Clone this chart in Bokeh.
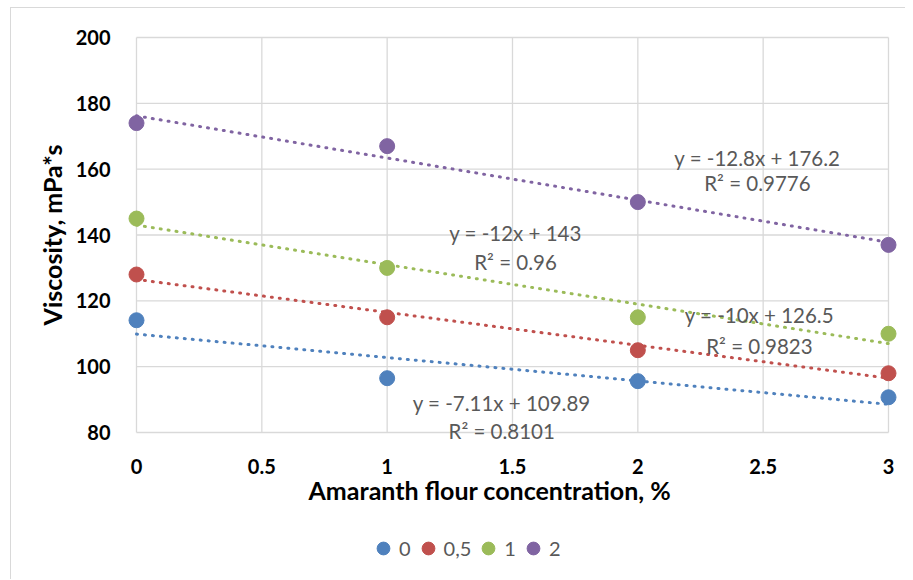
import numpy as np
from bokeh.plotting import figure
from bokeh.layouts import column
from bokeh.models import Range1d, FixedTicker, Legend, LegendItem, Title
from bokeh.core.properties import value
from bokeh.embed import file_html
from bokeh.resources import INLINE

# ---- data ----
conc = [0, 1, 2, 3]
series_names = ["0", "0,5", "1", "2"]
visc_0 = [114.1, 96.5, 95.6, 90.7]
visc_05 = [128, 115, 105, 98]
visc_1 = [145, 130, 115, 110]
visc_2 = [174, 167, 150, 137]
colors = ["#4f81bd", "#c0504d", "#9bbb59", "#8064a2"]
eq_labels = ["y = -7.11x + 109.89", "y = -10x + 126.5", "y = -12x + 143", "y = -12.8x + 176.2"]
r2_labels = ["R\u00b2 = 0.8101", "R\u00b2 = 0.9823", "R\u00b2 = 0.96", "R\u00b2 = 0.9776"]
x_ticks = [0, 0.5, 1, 1.5, 2, 2.5, 3]
y_ticks = [80, 100, 120, 140, 160, 180, 200]
x_title = "Amaranth flour concentration, %"
y_title = "Viscosity, mPa*s"

series = [visc_0, visc_05, visc_1, visc_2]

FONT = "Lato"
OX, OY = 11, 8          # page offset of the chart content (outer border)
PAD = 10
W = 894
H = 507
left_b = 126 - OX
top_b = 27 - OY
frame_w = 772
frame_h = 415
right_b = W - left_b - frame_w
bottom_b = H - top_b - frame_h

xmin, xmax = x_ticks[0], x_ticks[-1]
ymin, ymax = y_ticks[0], y_ticks[-1]
xpad = (xmax - xmin) * PAD / (frame_w - 2 * PAD)
ypad = (ymax - ymin) * PAD / (frame_h - 2 * PAD)

p = figure(width=W, height=H, output_backend="svg", toolbar_location=None,
           x_range=Range1d(xmin - xpad, xmax + xpad),
           y_range=Range1d(ymin - ypad, ymax + ypad),
           min_border_left=left_b, min_border_right=right_b,
           min_border_top=top_b, min_border_bottom=bottom_b)
p.outline_line_color = None
p.xgrid.visible = False
p.ygrid.visible = False

# grid drawn within the plot area only
grid_c = "#d9d9d9"
p.segment(x0=x_ticks, x1=x_ticks, y0=[ymin] * len(x_ticks), y1=[ymax] * len(x_ticks),
          line_color=grid_c, line_width=1.3)
p.segment(x0=[xmin] * len(y_ticks), x1=[xmax] * len(y_ticks), y0=y_ticks, y1=y_ticks,
          line_color=grid_c, line_width=1.3)

# trendlines (least squares fit of each series)
for vals, col in zip(series, colors):
    k, b = np.polyfit(conc, vals, 1)
    xs = [min(conc), max(conc)]
    p.line(xs, [k * xs[0] + b, k * xs[1] + b], line_color=col, line_width=3,
           line_dash="1 7", line_cap="round")
for vals, col in zip(series, colors):
    p.scatter(conc, vals, size=15, fill_color=col, line_color=col)

# equation labels
eq_pos = [(1.457, 89.1, 80.6), (2.485, 115.6, 106.4), (1.512, 140.5, 131.7), (2.477, 163.3, 155.7)]
for (ex, ey1, ey2), eq, r2 in zip(eq_pos, eq_labels, r2_labels):
    p.text(x=[ex], y=[ey1], text=[eq], text_align="center", text_baseline="middle",
           text_font=value(FONT), text_font_size="20.5px", text_color="#595959")
    p.text(x=[ex], y=[ey2], text=[r2], text_align="center", text_baseline="middle",
           text_font=value(FONT), text_font_size="20.5px", text_color="#595959")

for ax in (p.xaxis[0], p.yaxis[0]):
    ax.axis_line_color = None
    ax.major_tick_line_color = None
    ax.minor_tick_line_color = None
    ax.major_label_text_font = FONT
    ax.major_label_text_font_style = "bold"
    ax.major_label_text_font_size = "20px"
    ax.major_label_text_color = "#000000"
    ax.axis_label_text_font = FONT
    ax.axis_label_text_font_style = "bold"
    ax.axis_label_text_font_size = "25px"
    ax.axis_label_text_color = "#000000"

p.xaxis.ticker = FixedTicker(ticks=x_ticks)
p.xaxis.major_label_overrides = {t: ("%g" % t) for t in x_ticks}
p.yaxis.ticker = FixedTicker(ticks=y_ticks)
p.yaxis.axis_label = y_title
p.xaxis.major_label_standoff = 10
p.yaxis.major_label_standoff = 10
p.yaxis.axis_label_standoff = 6

# x title as a below-panel title so it can sit left of the frame centre (as in the source)
xt = Title(text=x_title, align="left", offset=182, standoff=-8,
           text_font=FONT, text_font_size="25px", text_font_style="bold", text_color="#000000")
p.add_layout(xt, "below")

# ---- legend strip below the chart ----
LH = 64
p2 = figure(width=W, height=LH, output_backend="svg", toolbar_location=None,
            x_axis_type=None, y_axis_type=None,
            x_range=Range1d(0, 1), y_range=Range1d(0, 1),
            min_border_left=0, min_border_right=0, min_border_top=0, min_border_bottom=0)
p2.grid.visible = False
p2.outline_line_color = None
# legend proxies (kept outside the visible range)
leg_r = [p2.scatter(x=[-5], y=[-5], size=15, fill_color=c, line_color=c) for c in colors]
legend = Legend(items=[LegendItem(label=n, renderers=[r]) for n, r in zip(series_names, leg_r)],
                orientation="horizontal", location=(241, 13),
                label_text_font=FONT, label_text_font_size="20px", label_text_color="#595959",
                glyph_width=32, glyph_height=36, spacing=1, label_standoff=0, label_width=0,
                border_line_color=None, background_fill_alpha=0, margin=0, padding=0)
p2.add_layout(legend, "center")

layout = column(p, p2, spacing=0, margin=(7, 0, 0, 10),
                styles={"border-left": "1px solid #d9d9d9", "border-top": "1px solid #d9d9d9"})

html = file_html(layout, INLINE)
open("out.html", "w").write(html)
